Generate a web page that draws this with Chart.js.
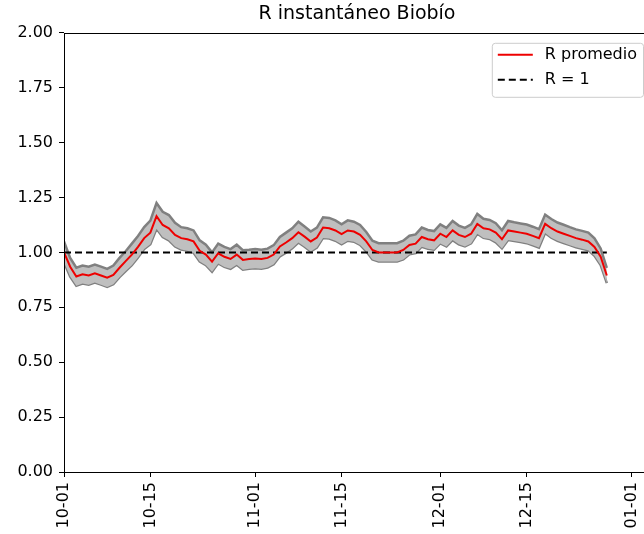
<!DOCTYPE html>
<html>
<head>
<meta charset="utf-8">
<title>R instantáneo Biobío</title>
<script src="https://cdn.jsdelivr.net/npm/chart.js@4.4.1/dist/chart.umd.min.js"></script>
<style>
  html, body { margin: 0; padding: 0; background: #fff; overflow: hidden; }
  #wrap { width: 644px; height: 534px; overflow: hidden; }
</style>
</head>
<body>
<div id="wrap"><canvas id="rChart" width="660" height="534"></canvas></div>
<script>
// R promedio diario desde 10-01 (índice = días desde 10-01)
const rMean = [
  1.00, 0.935, 0.89, 0.90, 0.895, 0.905, 0.895, 0.885, 0.897, 0.93,
  0.96, 0.99, 1.025, 1.065, 1.09, 1.165, 1.125, 1.11, 1.08, 1.065,
  1.06, 1.05, 1.007, 0.99, 0.958, 0.996, 0.98, 0.97, 0.99, 0.966,
  0.97, 0.972, 0.97, 0.975, 0.99, 1.027, 1.045, 1.065, 1.092, 1.072,
  1.05, 1.068, 1.113, 1.11, 1.10, 1.083, 1.10, 1.095, 1.08, 1.05,
  1.011, 1.00, 1.00, 1.00, 1.00, 1.011, 1.034, 1.04, 1.07, 1.06,
  1.055, 1.085, 1.07, 1.10, 1.08, 1.07, 1.085, 1.13, 1.11, 1.105,
  1.09, 1.06, 1.10, 1.095, 1.09, 1.085, 1.075, 1.065, 1.13, 1.11,
  1.095, 1.085, 1.075, 1.065, 1.058, 1.05, 1.025, 0.98, 0.895
];
// banda superior
const rUpper = [
  1.05, 0.975, 0.93, 0.94, 0.935, 0.945, 0.935, 0.925, 0.94, 0.975,
  1.005, 1.04, 1.075, 1.115, 1.145, 1.225, 1.185, 1.17, 1.135, 1.115,
  1.11, 1.10, 1.055, 1.035, 1.00, 1.04, 1.025, 1.015, 1.035, 1.01,
  1.012, 1.015, 1.012, 1.017, 1.033, 1.07, 1.09, 1.11, 1.14, 1.118,
  1.095, 1.113, 1.16, 1.157, 1.146, 1.128, 1.146, 1.14, 1.125, 1.093,
  1.053, 1.042, 1.042, 1.042, 1.042, 1.053, 1.076, 1.082, 1.113, 1.102,
  1.097, 1.128, 1.112, 1.143, 1.122, 1.112, 1.128, 1.175, 1.153, 1.148,
  1.133, 1.101, 1.143, 1.137, 1.132, 1.127, 1.117, 1.106, 1.172, 1.152,
  1.136, 1.126, 1.115, 1.105, 1.098, 1.09, 1.064, 1.018, 0.93
];
// banda inferior
const rLower = [
  0.955, 0.89, 0.848, 0.858, 0.853, 0.863, 0.853, 0.843, 0.855, 0.887,
  0.915, 0.942, 0.977, 1.015, 1.037, 1.108, 1.07, 1.055, 1.027, 1.013,
  1.008, 0.998, 0.958, 0.942, 0.912, 0.95, 0.934, 0.925, 0.944, 0.921,
  0.926, 0.928, 0.926, 0.931, 0.946, 0.982, 0.999, 1.019, 1.045, 1.026,
  1.004, 1.022, 1.066, 1.063, 1.053, 1.037, 1.053, 1.049, 1.034, 1.005,
  0.968, 0.958, 0.958, 0.958, 0.958, 0.968, 0.991, 0.997, 1.026, 1.017,
  1.012, 1.041, 1.027, 1.056, 1.037, 1.027, 1.041, 1.085, 1.066, 1.061,
  1.046, 1.018, 1.056, 1.052, 1.047, 1.042, 1.032, 1.022, 1.088, 1.067,
  1.053, 1.043, 1.033, 1.023, 1.017, 1.01, 0.985, 0.942, 0.86
];
// línea R = 1
const refValue = 1;
const refDays = [0, 88];

// ejes
const tickDays = [0, 14, 31, 45, 61, 75, 92];
const tickLabels = ['10-01', '10-15', '11-01', '11-15', '12-01', '12-15', '01-01'];
const yTicks = [0, 0.25, 0.5, 0.75, 1, 1.25, 1.5, 1.75, 2];

const toPoints = arr => arr.map((v, i) => ({ x: i, y: v }));

Chart.defaults.font.family = '"DejaVu Sans", sans-serif';
Chart.defaults.color = '#000';

// marco y leyenda estilo matplotlib
const mplPlugin = {
    id: 'mplFrame',
    afterDatasetsDraw(chart) {
        const { ctx, chartArea: a } = chart;
        ctx.save();
        ctx.strokeStyle = '#000';
        ctx.lineWidth = 1;
        ctx.strokeRect(Math.round(a.left) + 0.5, Math.round(a.top) + 0.5,
            Math.round(a.right - a.left), Math.round(a.bottom - a.top));
        ctx.restore();
    },
    afterDraw(chart) {
        const { ctx, chartArea: a } = chart;
        const items = [chart.data.datasets[0], chart.data.datasets[1]];
        ctx.save();
        ctx.font = '16px "DejaVu Sans", sans-serif';
        const textW = Math.max(...items.map(d => ctx.measureText(d.label).width));
        const pad = 6, handle = 35, gap = 12, rowH = 25;
        const w = pad + handle + gap + textW + pad;
        const h = 54;
        const x0 = a.right - 7 - w;
        const y0 = a.top + 10;
        ctx.beginPath();
        ctx.roundRect(x0 + 0.5, y0 + 0.5, w, h, 3);
        ctx.fillStyle = 'rgba(255,255,255,0.8)';
        ctx.fill();
        ctx.strokeStyle = '#cccccc';
        ctx.lineWidth = 1;
        ctx.stroke();
        items.forEach((d, i) => {
            const cy = y0 + 12 + i * rowH;
            ctx.beginPath();
            ctx.setLineDash(d.borderDash || []);
            ctx.strokeStyle = d.borderColor;
            ctx.lineWidth = d.borderWidth;
            ctx.moveTo(x0 + pad, cy);
            ctx.lineTo(x0 + pad + handle, cy);
            ctx.stroke();
            ctx.setLineDash([]);
            ctx.fillStyle = '#000';
            ctx.textBaseline = 'middle';
            ctx.fillText(d.label, x0 + pad + handle + gap, cy);
        });
        ctx.restore();
    }
};

new Chart(document.getElementById('rChart'), {
    type: 'line',
    data: {
        datasets: [
            {
                label: 'R promedio',
                data: toPoints(rMean),
                borderColor: '#ee0000',
                borderWidth: 2,
                pointRadius: 0,
                fill: false
            },
            {
                label: 'R = 1',
                data: refDays.map(d => ({ x: d, y: refValue })),
                borderColor: '#000000',
                borderWidth: 2,
                borderDash: [7, 4],
                pointRadius: 0,
                fill: false
            },
            {
                label: 'sup',
                data: toPoints(rUpper),
                borderColor: '#808080',
                borderWidth: 2.5,
                pointRadius: 0,
                backgroundColor: '#bfbfbf',
                fill: '+1'
            },
            {
                label: 'inf',
                data: toPoints(rLower),
                borderColor: '#808080',
                borderWidth: 2.5,
                pointRadius: 0,
                fill: false
            }
        ]
    },
    options: {
        responsive: false,
        animation: false,
        layout: { padding: { left: 0, right: 10, top: 0, bottom: 0 }, autoPadding: false },
        plugins: {
            legend: { display: false },
            tooltip: { enabled: false },
            title: {
                display: true,
                text: 'R instantáneo Biobío',
                fullSize: false,
                font: { size: 19, weight: 'normal' },
                padding: { top: 3, bottom: 7 }
            }
        },
        scales: {
            x: {
                type: 'linear',
                min: 0,
                max: 95,
                afterBuildTicks: scale => { scale.ticks = tickDays.map(v => ({ value: v })); },
                afterFit: scale => { scale.height = 62; },
                border: { display: false },
                grid: { drawOnChartArea: false, color: '#000', tickLength: 5 },
                ticks: {
                    autoSkip: false,
                    minRotation: 90,
                    maxRotation: 90,
                    padding: 5,
                    font: { size: 16 },
                    callback: v => tickLabels[tickDays.indexOf(v)]
                }
            },
            y: {
                min: 0,
                max: 2,
                afterBuildTicks: scale => { scale.ticks = yTicks.map(v => ({ value: v })); },
                afterFit: scale => { scale.width = 64; },
                border: { display: false },
                grid: { drawOnChartArea: false, color: '#000', tickLength: 5 },
                ticks: {
                    padding: 6,
                    font: { size: 16 },
                    callback: v => v.toFixed(2)
                }
            }
        }
    },
    plugins: [mplPlugin]
});
</script>
</body>
</html>
